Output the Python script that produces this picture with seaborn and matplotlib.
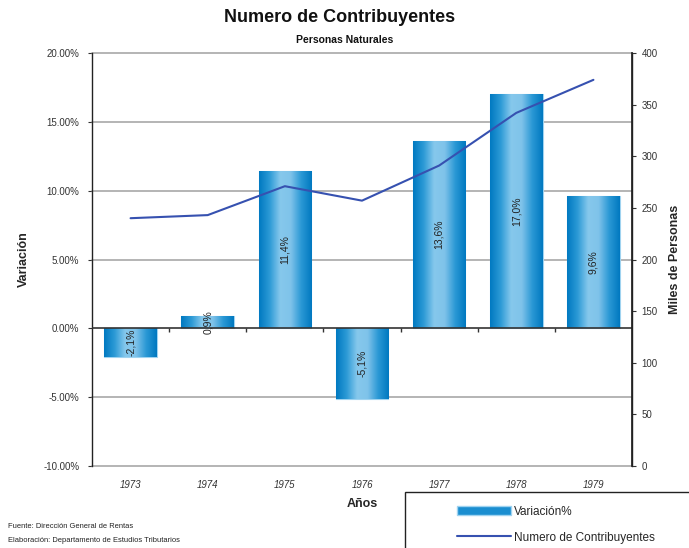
import numpy as np
import matplotlib
matplotlib.use("Agg")
import matplotlib.pyplot as plt
import seaborn as sns
import pandas as pd
from matplotlib.colors import LinearSegmentedColormap
from matplotlib.patches import Rectangle, Patch
from matplotlib.lines import Line2D

# Data
years = ["1973", "1974", "1975", "1976", "1977", "1978", "1979"]
variacion = [-2.1, 0.9, 11.4, -5.1, 13.6, 17.0, 9.6]          # %
contribuyentes = [240, 243, 271, 257, 291, 342, 374]           # miles de personas
bar_labels = ["-2,1%", "0,9%", "11,4%", "-5,1%", "13,6%", "17,0%", "9,6%"]
left_ticks = [-10, -5, 0, 5, 10, 15, 20]
right_ticks = [0, 50, 100, 150, 200, 250, 300, 350, 400]

sns.set_theme(style="white")
plt.rcParams["font.family"] = ["Liberation Sans", "DejaVu Sans"]

fig = plt.figure(figsize=(6.89, 5.48), dpi=100)
ax = fig.add_axes([92 / 689, 1 - 466 / 548, 540 / 689, 413 / 548])

df = pd.DataFrame({"Año": years, "Variación%": variacion})
sns.barplot(data=df, x="Año", y="Variación%", ax=ax, width=0.68,
            color="#1A8ED0", edgecolor="#9FD3F0", linewidth=0.8,
            saturation=1, zorder=3)

# cylinder-like shading on each bar
cmap = LinearSegmentedColormap.from_list(
    "cyl", ["#0079C1", "#2C9AD6", "#86C8EC", "#7FC3EA", "#2A98D5", "#0078C0"])
grad = np.linspace(0, 1, 256).reshape(1, -1)
for p in ax.patches:
    x0, y0 = p.get_x(), p.get_y()
    w, h = p.get_width(), p.get_height()
    im = ax.imshow(grad, cmap=cmap, aspect="auto", zorder=3.5,
                   extent=[x0, x0 + w, min(y0, y0 + h), max(y0, y0 + h)],
                   interpolation="bicubic")
    im.set_clip_path(p)

# value labels inside bars
for i, (v, lab) in enumerate(zip(variacion, bar_labels)):
    ax.text(i, v / 2, lab, rotation=90, ha="center", va="center",
            fontsize=7.5, color="#222222", zorder=5)

ax.set_xlim(-0.5, len(years) - 0.5)
ax.set_ylim(-10, 20)
ax.set_yticks(left_ticks)
ax.set_yticklabels([f"{t:.2f}%" for t in left_ticks], fontsize=7, color="#333333")
for t in left_ticks:
    if t != 0:
        ax.axhline(t, color="#A0A0A0", lw=1.1, zorder=1, clip_on=False)
ax.axhline(0, color="#333333", lw=1.2, zorder=4)

# category separators on the zero line
ax.vlines(np.arange(len(years) - 1) + 0.5, -0.3, 0, color="#333333", lw=1.0, zorder=4)

ax.tick_params(axis="x", length=0, pad=10)
ax.set_xticks(range(len(years)))
ax.set_xticklabels(years, fontsize=7, style="italic", color="#333333")
ax.tick_params(axis="y", left=True, length=3, width=0.8, color="#333333", pad=6)
for s in ["top", "bottom"]:
    ax.spines[s].set_visible(False)
ax.spines["left"].set_color("#222222")
ax.spines["left"].set_linewidth(1.0)
ax.spines["right"].set_color("#222222")
ax.spines["right"].set_linewidth(1.0)
ax.set_xlabel("Años", fontsize=9, fontweight="bold", labelpad=6)
ax.set_ylabel("Variación", fontsize=9, fontweight="bold", labelpad=10)

# secondary axis: contribuyentes
ax2 = ax.twinx()
dl = pd.DataFrame({"pos": np.arange(len(years)), "Numero de Contribuyentes": contribuyentes})
sns.lineplot(data=dl, x="pos", y="Numero de Contribuyentes", ax=ax2,
             color="#3651B0", lw=1.5, zorder=6)
ax2.set_ylim(0, 400)
ax2.set_yticks(right_ticks)
ax2.set_yticklabels([str(t) for t in right_ticks], fontsize=7, color="#333333")
ax2.tick_params(axis="y", right=True, length=3, width=0.8, color="#333333", pad=4)
for s in ["top", "bottom", "left"]:
    ax2.spines[s].set_visible(False)
ax2.spines["right"].set_color("#222222")
ax2.set_ylabel("Miles de Personas", fontsize=9, fontweight="bold", labelpad=8)
ax2.set_xlim(-0.5, len(years) - 0.5)
ax2.grid(False)

# titles
fig.text(340 / 689, 1 - 18 / 548, "Numero de Contribuyentes", ha="center", va="center",
         fontsize=13, fontweight="bold", color="#111111")
fig.text(345 / 689, 1 - 40 / 548, "Personas Naturales", ha="center", va="center",
         fontsize=7.5, fontweight="bold", color="#111111")

# footnotes
fig.text(8 / 689, 1 - 526 / 548, "Fuente: Dirección General de Rentas",
         fontsize=5.4, color="#222222", va="center")
fig.text(8 / 689, 1 - 540 / 548, "Elaboración: Departamento de Estudios Tributarios",
         fontsize=5.4, color="#222222", va="center")

# legend box
fig.patches.append(Rectangle((405 / 689, -0.05), 0.5, (1 - 492 / 548) + 0.05,
                             transform=fig.transFigure, fill=False,
                             edgecolor="#222222", lw=1.0))
handles = [Patch(facecolor="#1A8ED0", edgecolor="#9FD3F0"),
           Line2D([], [], color="#3651B0", lw=1.5)]
fig.legend(handles, ["Variación%", "Numero de Contribuyentes"],
           loc="upper left", bbox_to_anchor=(452 / 689, 1 - 501 / 548),
           frameon=False, fontsize=8.5, handlelength=4.6, handleheight=0.85,
           handletextpad=0.25, labelspacing=1.2, borderaxespad=0)

fig.savefig("out.png", dpi=100)
